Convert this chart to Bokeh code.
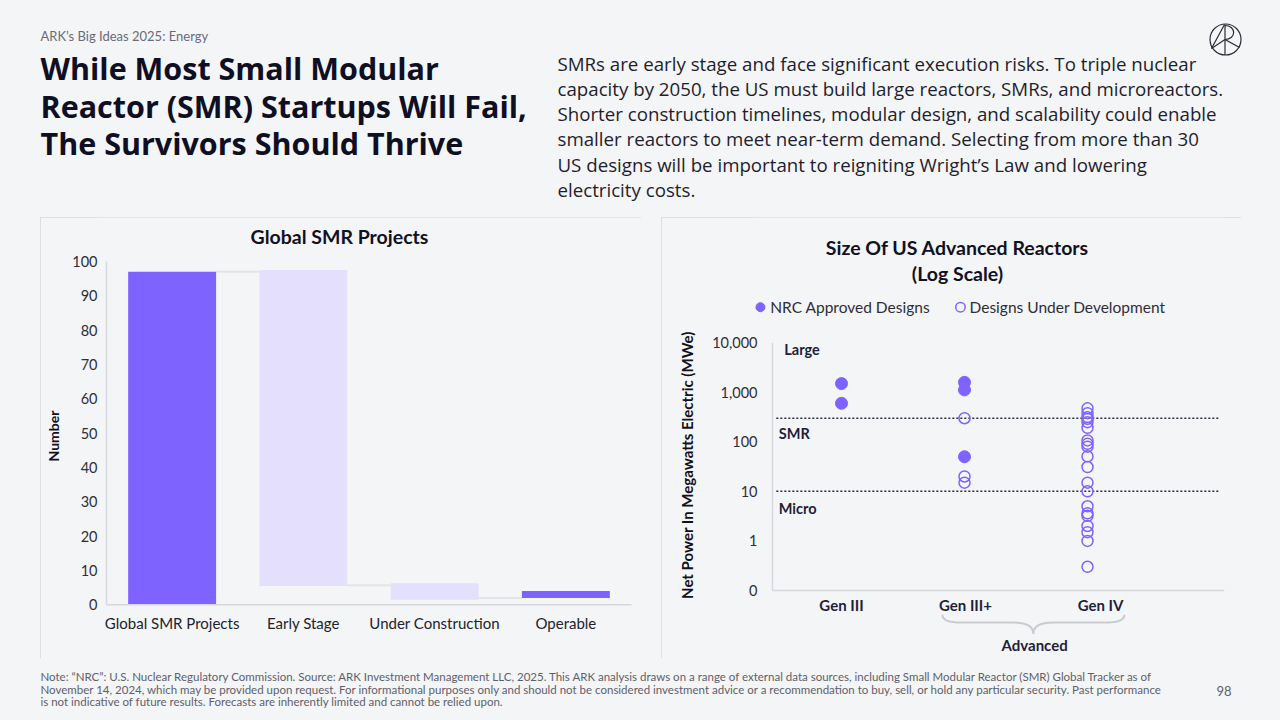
import math
from bokeh.plotting import figure
from bokeh.models import Range1d, FactorRange, FixedTicker, Spacer
from bokeh.layouts import column, row
from bokeh.core.properties import value
from bokeh.embed import file_html
from bokeh.resources import INLINE

# ---------------- data ----------------
categories = ["Global SMR Projects", "Early Stage", "Under Construction", "Operable"]
bar_low = [0, 5.5, 1.5, 2.0]
bar_high = [97.0, 97.5, 6.3, 4.0]
connector_level = [97.0, 5.7, 2.0]
left_ticks = [0, 10, 20, 30, 40, 50, 60, 70, 80, 90, 100]

gen_labels = ["Gen III", "Gen III+", "Gen IV"]
approved_gen = [1, 1, 2, 2, 2]
approved_mwe = [1500, 600, 1590, 1120, 50]
dev_gen = [2, 2, 2] + [3] * 20
dev_mwe = [300, 20, 15,
           475, 380, 315, 290, 250, 192, 107, 91, 80, 51, 31, 15, 10, 5, 3.6, 3.2, 2, 1.5, 1, 0.3]
right_ticks = [0.1, 1, 10, 100, 1000, 10000]
right_tick_labels = ["0", "1", "10", "100", "1,000", "10,000"]
size_thresholds = [300, 10]
legend_labels = ["NRC Approved Designs", "Designs Under Development"]

# ---------------- style ----------------
BG = "#F4F5F7"
PURPLE = "#7F63FF"
LIGHT = "#E3DFFC"
AXIS = "#D6D8DD"
NAVY = "#1F1F3A"
LATO = value("Lato")
OPEN = value("Open Sans")
BORDER = {"outline": "1.5px solid #D5D7DC", "outline-offset": "-1.5px"}
NBSP = "\u00a0"


def base_fig(**kw):
    p = figure(output_backend="svg", toolbar_location=None, **kw)
    p.background_fill_color = BG
    p.border_fill_color = BG
    p.outline_line_color = None
    p.xgrid.visible = False
    p.ygrid.visible = False
    return p

# ---------------- header ----------------
hdr = base_fig(width=1280, height=217, x_range=Range1d(0, 1280), y_range=Range1d(217, 0),
               min_border=0, x_axis_location=None, y_axis_location=None)
hdr.text(x=[40], y=[35.7], text=["ARK\u2019s Big Ideas 2025: Energy"], text_font=LATO,
         text_font_size="13px", text_color="#6A6B78", text_baseline="alphabetic")
hdr.text(x=[40, 40, 40], y=[67.5, 105, 142.5],
         text=["While Most Small Modular", "Reactor (SMR) Startups Will Fail,", "The Survivors Should Thrive"],
         text_font=OPEN, text_font_size="30.5px", text_font_style="bold", text_color="#0F0F24",
         text_baseline="alphabetic")
para = ["SMRs are early stage and face significant execution risks. To triple nuclear",
        "capacity by 2050, the US must build large reactors, SMRs, and microreactors.",
        "Shorter construction timelines, modular design, and scalability could enable",
        "smaller reactors to meet near-term demand. Selecting from more than 30",
        "US designs will be important to reigniting Wright\u2019s Law and lowering",
        "electricity costs."]
hdr.text(x=[557] * 6, y=[62.5 + 25.3 * i for i in range(6)], text=para, text_font=OPEN,
         text_font_size="18.7px", text_color="#1E1E2E", text_baseline="alphabetic")
# logo
hdr.circle(x=[1225], y=[39], radius=15.5, fill_color=None, line_color="#2A2A35", line_width=1.2)
hdr.segment(x0=[1224.5, 1211, 1224.5, 1211], y0=[24, 48, 39, 48],
            x1=[1224.5, 1224, 1239, 1224.5], y1=[54.5, 24, 47, 39],
            line_color="#2A2A35", line_width=1.2)
hdr.bezier(x0=[1224.5], y0=[25], x1=[1224.5], y1=[39], cx0=[1236], cy0=[25], cx1=[1236], cy1=[39],
           line_color="#2A2A35", line_width=1.2)

# ---------------- left chart ----------------
p1 = base_fig(width=601, height=441,
              x_range=FactorRange(factors=categories, range_padding=0.0762,
                                  range_padding_units="absolute", factor_padding=0),
              y_range=Range1d(-14.48, 112.8),
              min_border_left=56, min_border_right=0, min_border_top=0, min_border_bottom=4)
p1.styles = BORDER
p1.xaxis.visible = False
p1.vbar(x=categories, bottom=bar_low, top=bar_high, width=0.67,
        fill_color=[PURPLE, LIGHT, LIGHT, PURPLE], line_color=None)
p1.segment(x0=[(c, 0.335) for c in categories[:-1]], y0=connector_level,
           x1=[(c, -0.335) for c in categories[1:]], y1=connector_level,
           line_color="#E3E4E8", line_width=2)
# axis lines + category labels
p1.segment(x0=[0], y0=[0], x1=[len(categories)], y1=[0], line_color=AXIS, line_width=1.5)
p1.segment(x0=[0], y0=[left_ticks[0]], x1=[0], y1=[left_ticks[-1]], line_color=AXIS, line_width=1.5)
p1.text(x=categories, y=[-5.45] * len(categories), text=categories, text_font=LATO,
        text_font_size="15px", text_color="#22222E", text_align="center", text_baseline="middle")
p1.text(x=[1.775], y=[107.3], text=["Global SMR Projects"], text_font=LATO, text_font_size="19.5px",
        text_font_style="bold", text_color="#111122", text_align="center", text_baseline="middle")
ya1 = p1.yaxis[0]
ya1.ticker = FixedTicker(ticks=left_ticks)
ya1.major_tick_line_color = None
ya1.minor_tick_line_color = None
ya1.major_tick_out = 0
ya1.major_tick_in = 0
ya1.axis_line_color = None
ya1.major_label_text_font = "Lato"
ya1.major_label_text_font_size = "14.5px"
ya1.major_label_text_color = "#2E2E3A"
ya1.major_label_standoff = -1
ya1.axis_label = "Number"
ya1.axis_label_text_font = "Lato"
ya1.axis_label_text_font_style = "bold"
ya1.axis_label_text_font_size = "14px"
ya1.axis_label_text_color = "#111122"
ya1.axis_label_standoff = 7

# ---------------- right chart ----------------
XR = Range1d(0.2764, 4.1138)
p2 = base_fig(width=580, height=441, x_range=XR, y_range=Range1d(10 ** -2.294, 10 ** 6.530),
              y_axis_type="log",
              min_border_left=91, min_border_right=17, min_border_top=0, min_border_bottom=4)
p2.styles = BORDER
p2.xaxis.visible = False
axis_x = 0.439
ya = p2.yaxis[0]
ya.ticker = FixedTicker(ticks=right_ticks)
ya.major_label_overrides = {t: s for t, s in zip(right_ticks, right_tick_labels)}
ya.major_tick_line_color = None
ya.minor_tick_line_color = None
ya.major_tick_out = 0
ya.major_tick_in = 0
ya.axis_line_color = None
ya.major_label_standoff = -5
ya.major_label_text_font = "Lato"
ya.major_label_text_font_size = "14.5px"
ya.major_label_text_color = "#2E2E3A"
ya.axis_label = "Net Power In Megawatts Electric (MWe)" + NBSP * 16
ya.axis_label_text_font = "Lato"
ya.axis_label_text_font_style = "bold"
ya.axis_label_text_font_size = "15px"
ya.axis_label_text_color = "#111122"
ya.axis_label_standoff = 13

# axis lines drawn on the data scales
p2.segment(x0=[axis_x], y0=[right_ticks[0]], x1=[axis_x], y1=[right_ticks[-1]],
           line_color=AXIS, line_width=1.5)
p2.segment(x0=[axis_x], y0=[right_ticks[0]], x1=[XR.end], y1=[right_ticks[0]],
           line_color=AXIS, line_width=1.5)
p2.segment(x0=[0.47] * 2, y0=size_thresholds, x1=[4.07] * 2, y1=size_thresholds,
           line_color="#2A2A3A", line_width=1.5, line_dash="2 2")

p2.scatter(x=dev_gen, y=dev_mwe, size=11, fill_color=None, line_color=PURPLE, line_width=1.5)
p2.scatter(x=approved_gen, y=approved_mwe, size=12, fill_color=PURPLE, line_color=PURPLE)

# legend (markers + labels)
p2.scatter(x=[0.341], y=[10 ** 4.719], size=9, fill_color=PURPLE, line_color=PURPLE)
p2.scatter(x=[1.967], y=[10 ** 4.719], size=9.5, fill_color=None, line_color=PURPLE, line_width=1.5)
p2.text(x=[0.421, 2.041], y=[10 ** 4.719] * 2, text=legend_labels, text_font=LATO,
        text_font_size="15.5px", text_color="#2E2E3A", text_baseline="middle")

# region labels
p2.text(x=[0.535, 0.49, 0.49], y=[10 ** 3.86, 10 ** 2.17, 10 ** 0.655], text=["Large", "SMR", "Micro"],
        text_font=LATO, text_font_size="14.5px", text_font_style="bold", text_color=NAVY,
        text_baseline="middle")
# category labels
p2.text(x=[1, 2.008, 3.106], y=[10 ** -1.29] * 3, text=gen_labels, text_font=LATO,
        text_font_size="15px", text_font_style="bold", text_color=NAVY,
        text_align="center", text_baseline="middle")
# brace
bx0, bx1, bxm, d = 1.82, 3.30, 2.56, 0.16
yt, ym, yb = 10 ** -1.49, 10 ** -1.65, 10 ** -1.875
p2.quadratic(x0=[bx0, bxm - d, bx1, bxm + d], y0=[yt, ym, yt, ym],
             x1=[bx0 + d, bxm, bx1 - d, bxm], y1=[ym, yb, ym, yb],
             cx=[bx0, bxm, bx1, bxm], cy=[ym, ym, ym, ym], line_color="#C9CBD1", line_width=2)
p2.segment(x0=[bx0 + d, bxm + d], y0=[ym, ym], x1=[bxm - d, bx1 - d], y1=[ym, ym],
           line_color="#C9CBD1", line_width=2)
p2.text(x=[2.57], y=[10 ** -2.1], text=["Advanced"], text_font=LATO, text_font_size="15px",
        text_font_style="bold", text_color=NAVY, text_align="center", text_baseline="middle")
# title
p2.text(x=[1.943, 1.943], y=[10 ** 5.931, 10 ** 5.393], text=["Size Of US Advanced Reactors", "(Log Scale)"],
        text_font=LATO, text_font_size="19.5px", text_font_style="bold", text_color="#111122",
        text_align="center", text_baseline="middle")

# ---------------- footer ----------------
ftr = base_fig(width=1280, height=62, x_range=Range1d(0, 1280), y_range=Range1d(720, 658),
               min_border=0, x_axis_location=None, y_axis_location=None)
notes = ["Note: \u201cNRC\u201d: U.S. Nuclear Regulatory Commission. Source: ARK Investment Management LLC, 2025. This ARK analysis draws on a range of external data sources, including Small Modular Reactor (SMR) Global Tracker as of",
         "November 14, 2024, which may be provided upon request. For informational purposes only and should not be considered investment advice or a recommendation to buy, sell, or hold any particular security. Past performance",
         "is not indicative of future results. Forecasts are inherently limited and cannot be relied upon."]
ftr.text(x=[40] * 3, y=[676, 688.5, 701], text=notes, text_font=LATO, text_font_size="11.5px",
         text_color="#5E5F6B", text_baseline="alphabetic")
ftr.text(x=[1231], y=[690.5], text=["98"], text_font=LATO, text_font_size="13px",
         text_color="#5E5F6B", text_align="right", text_baseline="alphabetic")

layout = column(hdr,
                row(Spacer(width=40, height=441), p1, Spacer(width=20, height=441), p2,
                    Spacer(width=39, height=441)),
                ftr)

html = file_html(layout, INLINE)
html = html.replace("</head>", "<style>html, body { background-color: %s; }</style></head>" % BG, 1)
open("out.html", "w").write(html)
